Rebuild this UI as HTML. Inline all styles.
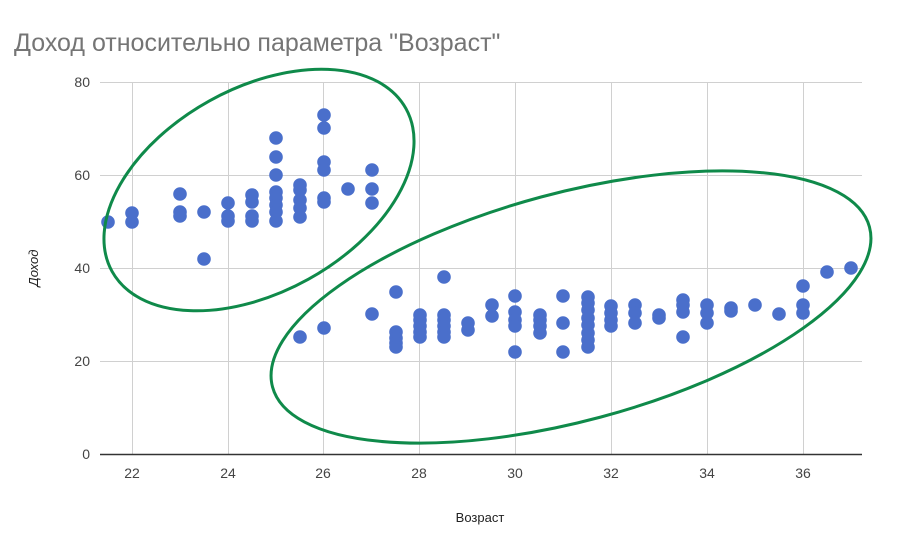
<!DOCTYPE html>
<html><head><meta charset="utf-8"><style>
html,body{margin:0;padding:0;background:#fff;}
svg{display:block;font-family:"Liberation Sans","DejaVu Sans",sans-serif;}
</style></head><body>
<svg width="902" height="546" viewBox="0 0 902 546">
<text x="14" y="51" font-size="25" fill="#757575">Доход относительно параметра "Возраст"</text>
<g stroke="#d0d0d0" stroke-width="1">
<line x1="100" y1="82.5" x2="862" y2="82.5"/>
<line x1="100" y1="175.5" x2="862" y2="175.5"/>
<line x1="100" y1="268.5" x2="862" y2="268.5"/>
<line x1="100" y1="361.5" x2="862" y2="361.5"/>
<line x1="132.5" y1="82" x2="132.5" y2="454"/>
<line x1="228.5" y1="82" x2="228.5" y2="454"/>
<line x1="323.5" y1="82" x2="323.5" y2="454"/>
<line x1="419.5" y1="82" x2="419.5" y2="454"/>
<line x1="515.5" y1="82" x2="515.5" y2="454"/>
<line x1="611.5" y1="82" x2="611.5" y2="454"/>
<line x1="707.5" y1="82" x2="707.5" y2="454"/>
<line x1="803.5" y1="82" x2="803.5" y2="454"/>
</g>
<line x1="100" y1="454.5" x2="862" y2="454.5" stroke="#333" stroke-width="1.5"/>
<g font-size="14" fill="#444" text-anchor="end">
<text x="90" y="87">80</text><text x="90" y="180">60</text><text x="90" y="273">40</text><text x="90" y="366">20</text><text x="90" y="459">0</text>
</g>
<g font-size="14" fill="#444" text-anchor="middle">
<text x="132" y="478">22</text><text x="228" y="478">24</text><text x="323" y="478">26</text><text x="419" y="478">28</text><text x="515" y="478">30</text><text x="611" y="478">32</text><text x="707" y="478">34</text><text x="803" y="478">36</text>
</g>
<text x="480" y="522" font-size="13" fill="#222" text-anchor="middle">Возраст</text>
<text transform="translate(38,268) rotate(-90)" font-size="13" fill="#222" font-style="italic" text-anchor="middle">Доход</text>
<g fill="#4a6fcb" id="pts"></g>
<ellipse cx="259" cy="190" rx="168" ry="102" transform="rotate(-29 259 190)" fill="none" stroke="#0f8a4a" stroke-width="3"/>
<ellipse cx="571" cy="307" rx="309" ry="114" transform="rotate(-15 571 307)" fill="none" stroke="#0f8a4a" stroke-width="3"/>
</svg>
<script>
var d={108:[222],132:[213,222],180:[194,212,216],204:[212,259],228:[203,216,221],252:[195,202,216,221],
276:[138,157,175,192,198,205,212,221],300:[185,190,200,208,217,337],324:[115,128,162,170,198,202,328],348:[189],372:[170,189,203,314],
396:[292,332,338,343,347],420:[315,320,326,332,337],444:[277,315,320,326,332,337],468:[323,330],492:[305,316],
515:[296,312,320,326,352],540:[315,320,326,333],563:[296,323,352],588:[297,303,310,318,325,333,340,347],611:[306,313,320,326],
635:[305,313,323],659:[315,318],683:[300,305,312,337],707:[305,313,323],731:[308,311],755:[305],779:[314],803:[286,305,313],827:[272],851:[268]};
var g=document.getElementById('pts'),s='';
for(var x in d)d[x].forEach(function(y){s+='<circle cx="'+x+'" cy="'+y+'" r="6.8"/>';});
g.innerHTML=s;
</script>
</body></html>
